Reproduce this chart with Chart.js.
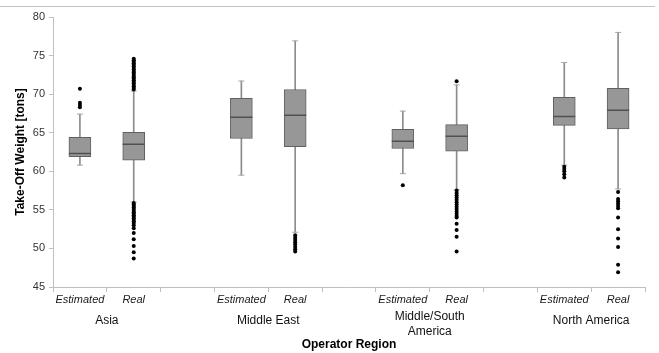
<!DOCTYPE html>
<html>
<head>
<meta charset="utf-8">
<script src="https://cdn.jsdelivr.net/npm/chart.js@4.4.1/dist/chart.umd.min.js"></script>
<style>
    html, body { margin: 0; padding: 0; background: #fff; }
    #wrap { position: relative; width: 659px; height: 353px; }
    /* thin rule across the top of the figure */
    #wrap::before { content: ''; position: absolute; left: 0; top: 6px; width: 655px; border-top: 1px solid #c4c4c4; }
</style>
</head>
<body>
<div id="wrap"><canvas id="chart"></canvas></div>
<script>
// Categories
const regions = [['Asia'], ['Middle East'], ['Middle/South', 'America'], ['North America']];
const sources = ['Estimated', 'Real'];
const yTicks = [45, 50, 55, 60, 65, 70, 75, 80];

// One entry per box: Asia Est, Asia Real, ME Est, ME Real, MSA Est, MSA Real, NA Est, NA Real
const whiskerLow  = [60.8, 56.0, 59.5, 52.1, 59.7, 57.6, 60.8, 57.7];
const q1          = [61.9, 61.45, 64.25, 63.2, 62.95, 62.6, 65.95, 65.5];
const median      = [62.3, 63.5, 67.0, 67.25, 63.9, 64.55, 67.1, 67.9];
const q3          = [64.4, 65.05, 69.45, 70.6, 65.45, 66.05, 69.6, 70.75];
const whiskerHigh = [67.4, 70.4, 71.7, 76.9, 67.8, 71.2, 74.1, 78.0];

const outliers = [
    [70.7, 68.9, 68.6, 68.3],
    [74.6, 74.4, 74.2, 74.0, 73.8, 73.6, 73.4, 73.2, 73.0, 72.8, 72.6, 72.4, 72.2, 72.0,
     71.8, 71.6, 71.4, 71.2, 71.0, 70.8, 70.6,
     55.9, 55.7, 55.5, 55.3, 55.1, 54.9, 54.7, 54.5, 54.3, 54.1, 53.9, 53.7, 53.5, 53.3,
     53.0, 52.6, 52.0, 51.2, 50.3, 49.5, 48.7],
    [],
    [51.7, 51.4, 51.1, 50.8, 50.5, 50.2, 49.9, 49.6],
    [58.2],
    [71.66, 57.5, 57.2, 56.9, 56.6, 56.3, 56.0, 55.7, 55.4, 55.1, 54.8, 54.5, 54.2, 54.0,
     53.2, 52.4, 51.5, 49.6],
    [60.6, 60.3, 60.0, 59.6, 59.2],
    [57.3, 56.4, 56.1, 55.8, 55.5, 55.2, 54.0, 52.5, 51.3, 50.2, 47.9, 46.9]
];

// category keys: region:source, with an empty gap slot between regions
const labels = [];
regions.forEach((r, g) => {
    sources.forEach(s => labels.push(g + ':' + s));
    if (g < regions.length - 1) labels.push('gap' + g);
});
const slotOf = k => Math.floor(k / 2) * 3 + (k % 2);

const whiskerData = labels.map(() => null);
const boxData = labels.map(() => null);
const capPoints = [];
const medianPoints = [];
const outlierPoints = [];
median.forEach((m, k) => {
    const slot = slotOf(k);
    const key = labels[slot];
    whiskerData[slot] = [whiskerLow[k], whiskerHigh[k]];
    boxData[slot] = [q1[k], q3[k]];
    capPoints.push({ x: key, y: whiskerLow[k] }, { x: key, y: whiskerHigh[k] });
    medianPoints.push({ x: key, y: m });
    outliers[k].forEach(v => outlierPoints.push({ x: key, y: v }));
});

const FONT = "'Liberation Sans', Arial, sans-serif";

// Region names centred under each Estimated/Real pair
const groupLabels = {
    id: 'groupLabels',
    afterDraw(chart) {
        const { ctx } = chart;
        const x = chart.scales.x;
        ctx.save();
        ctx.font = '12px ' + FONT;
        ctx.fillStyle = '#111';
        ctx.textAlign = 'center';
        ctx.textBaseline = 'middle';
        regions.forEach((lines, g) => {
            const cx = (x.getPixelForValue(g * 3) + x.getPixelForValue(g * 3 + 1)) / 2;
            const y0 = x.top + 34 - (lines.length - 1) * 4;
            lines.forEach((line, i) => ctx.fillText(line, cx, y0 + i * 15));
        });
        ctx.restore();
    }
};

new Chart(document.getElementById('chart'), {
    type: 'bar',
    data: {
        labels,
        datasets: [
            {
                type: 'scatter',
                data: outlierPoints,
                pointStyle: 'circle',
                pointRadius: 2,
                backgroundColor: '#000',
                borderWidth: 0,
                order: 0
            },
            {
                type: 'scatter',
                data: medianPoints,
                pointStyle: 'line',
                pointRadius: 11,
                borderColor: '#505050',
                borderWidth: 1.5,
                order: 1
            },
            {
                type: 'scatter',
                data: capPoints,
                pointStyle: 'line',
                pointRadius: 3,
                borderColor: '#a6a6a6',
                borderWidth: 1,
                order: 2
            },
            {
                data: boxData,
                backgroundColor: '#979797',
                borderColor: '#606060',
                borderWidth: 1,
                borderSkipped: false,
                barThickness: 22,
                grouped: false,
                order: 3
            },
            {
                data: whiskerData,
                backgroundColor: '#8c8c8c',
                barThickness: 1,
                grouped: false,
                order: 4
            }
        ]
    },
    options: {
        responsive: true,
        maintainAspectRatio: false,
        animation: false,
        events: [],
        layout: { padding: { top: 17, right: 14, left: 0, bottom: 0 } },
        plugins: {
            legend: { display: false },
            tooltip: { enabled: false }
        },
        scales: {
            x: {
                type: 'category',
                offset: true,
                afterFit: scale => { scale.height = 66; },
                grid: {
                    offset: true,
                    drawOnChartArea: false,
                    tickLength: 5,
                    color: '#bfbfbf'
                },
                border: { color: '#bfbfbf' },
                ticks: {
                    autoSkip: false,
                    maxRotation: 0,
                    padding: 1,
                    color: '#1a1a1a',
                    font: { family: FONT, size: 11, style: 'italic' },
                    callback(value) {
                        const l = this.getLabelForValue(value);
                        return l.startsWith('gap') ? '' : l.split(':')[1];
                    }
                },
                title: {
                    display: true,
                    text: 'Operator Region',
                    color: '#000',
                    font: { family: FONT, size: 12, weight: 'bold' },
                    padding: { top: 0, bottom: 1 }
                }
            },
            y: {
                min: yTicks[0],
                max: yTicks[yTicks.length - 1],
                afterFit: scale => { scale.width = 53; },
                afterBuildTicks: scale => { scale.ticks = yTicks.map(v => ({ value: v })); },
                grid: {
                    drawOnChartArea: false,
                    tickLength: 4,
                    color: '#bfbfbf'
                },
                border: { color: '#bfbfbf' },
                ticks: {
                    padding: 4,
                    color: '#333',
                    font: { family: FONT, size: 11 }
                },
                title: {
                    display: true,
                    text: 'Take-Off Weight [tons]',
                    color: '#000',
                    font: { family: FONT, size: 12, weight: 'bold' },
                    padding: { top: 13, bottom: 0 }
                }
            }
        }
    },
    plugins: [groupLabels]
});
</script>
</body>
</html>
